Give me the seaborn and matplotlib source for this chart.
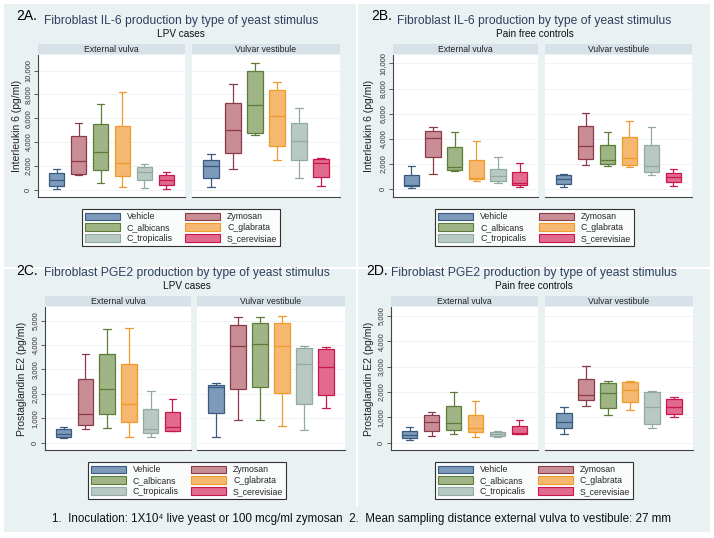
import numpy as np
import pandas as pd
import matplotlib
matplotlib.use('Agg')
import matplotlib.pyplot as plt
from matplotlib.patches import Rectangle, Patch
from matplotlib.ticker import FuncFormatter
import seaborn as sns

# five-number summaries per stimulus: min, q1, median, q3, max
stims = ['Vehicle', 'Zymosan', 'C_albicans', 'C_glabrata', 'C_tropicalis', 'S_cerevisiae']
fills = ['#7e9aba', '#c98e95', '#9fb585', '#f5b870', '#b8c9c3', '#e26a8e']
edges = ['#3a5a80', '#8b3a4a', '#5e7c39', '#f09a2a', '#93aaa3', '#c8174d']

il6_lpv_ext = [[80, 310, 790, 1380, 1770], [1210, 1350, 2390, 4490, 5560],
               [590, 1660, 3200, 5480, 7160], [230, 1150, 2220, 5390, 8170],
               [170, 840, 1520, 1910, 2190], [80, 420, 790, 1210, 1460]]
il6_lpv_vest = [[250, 1010, 1990, 2530, 3030], [1770, 3090, 5000, 7300, 8850],
                [4580, 4800, 7110, 9970, 10650], [2530, 3650, 6150, 8340, 9020],
                [980, 2530, 4130, 5560, 6830], [310, 1070, 2220, 2560, 2670]]
il6_ctrl_ext = [[130, 270, 340, 1110, 1880], [1220, 2540, 4050, 4600, 4950],
                [1430, 1530, 1800, 3330, 4580], [660, 820, 930, 2350, 3810],
                [500, 690, 1060, 1590, 2540], [210, 340, 500, 1350, 2090]]
il6_ctrl_vest = [[180, 450, 820, 1130, 1210], [1900, 2420, 3420, 5050, 6050],
                 [1840, 2000, 2290, 3550, 4530], [1790, 1950, 2500, 4180, 5400],
                 [1160, 1370, 1840, 3550, 4970], [260, 550, 970, 1320, 1580]]
pge2_lpv_ext = [[190, 230, 360, 550, 630], [550, 710, 1190, 2600, 3650],
                [600, 1160, 2190, 3650, 4650], [250, 830, 1570, 3220, 4700],
                [250, 410, 550, 1370, 2120], [480, 490, 630, 1260, 1780]]
pge2_lpv_vest = [[250, 1200, 2270, 2350, 2450], [940, 2200, 3960, 4820, 5140],
                 [940, 2270, 4030, 4890, 5160], [670, 2020, 3960, 4890, 5190],
                 [520, 1570, 3210, 3880, 3960], [1410, 1950, 3090, 3830, 3920]]
pge2_ctrl_ext = [[120, 170, 300, 450, 620], [260, 460, 800, 1080, 1200],
                 [330, 500, 760, 1430, 1990], [210, 410, 570, 1100, 1650],
                 [210, 280, 360, 420, 460], [330, 340, 370, 660, 880]]
pge2_ctrl_vest = [[360, 580, 800, 1160, 1420], [1460, 1680, 1900, 2510, 3030],
                  [1100, 1360, 1960, 2370, 2420], [1280, 1590, 2100, 2380, 2450],
                  [590, 720, 1400, 2010, 2040], [1000, 1130, 1420, 1710, 1790]]

sns.set_theme(style='white')
plt.rcParams['font.family'] = ['Liberation Sans', 'DejaVu Sans']

W, H = 714, 538
fig = plt.figure(figsize=(W / 100, H / 100), dpi=100, facecolor='white')
bg = '#eaf1f3'


def rect(x0, y0, x1, y1):
    return [x0 / W, 1 - y1 / H, (x1 - x0) / W, (y1 - y0) / H]


def fx(x):
    return x / W


def fy(y):
    return 1 - y / H


# panel backgrounds
for (x0, y0, x1, y1) in [(4, 4, 356, 267), (358, 4, 710, 267),
                         (4, 269, 356, 506), (358, 269, 710, 506), (4, 506, 710, 532)]:
    fig.patches.append(Rectangle((fx(x0), fy(y1)), (x1 - x0) / W, (y1 - y0) / H,
                                 transform=fig.transFigure, facecolor=bg,
                                 edgecolor='none', zorder=-5))


def to_long(summ):
    rows = []
    for s, vals in zip(stims, summ):
        for v in vals:
            rows.append((s, v))
    return pd.DataFrame(rows, columns=['stim', 'val'])


def facet(x0, x1, y0, y1, summ, ylim, ticks, name, left):
    st = fig.add_axes(rect(x0, y0 - 11, x1, y0 - 1))
    st.set_facecolor('#d7e2e8')
    st.set_xticks([])
    st.set_yticks([])
    for sp in st.spines.values():
        sp.set_visible(False)
    st.text(0.5, 0.5, name, ha='center', va='center', fontsize=6.2, color='#222222')

    ax = fig.add_axes(rect(x0, y0, x1, y1))
    ax.set_facecolor('white')
    df = to_long(summ)
    for i, s in enumerate(stims):
        sns.boxplot(data=df[df['stim'] == s], x='stim', y='val', order=stims,
                    color=fills[i], linecolor=edges[i], linewidth=0.9,
                    saturation=1, whis=(0, 100), width=0.7,
                    showfliers=False, ax=ax)
    ax.set_xlim(-0.85, 5.85)
    ax.set_ylim(*ylim)
    ax.set_yticks(ticks)
    ax.yaxis.grid(True, color='#eef1f1', lw=0.6)
    ax.set_axisbelow(True)
    ax.set_xlabel('')
    ax.set_ylabel('')
    ax.set_xticks([])
    for sp in ['top', 'right']:
        ax.spines[sp].set_visible(False)
    ax.spines['bottom'].set_color('#444444')
    ax.spines['bottom'].set_linewidth(0.8)
    if left:
        ax.spines['left'].set_color('#444444')
        ax.spines['left'].set_linewidth(0.8)
        ax.tick_params(axis='y', left=True, length=3, width=0.6, color='#444444',
                       labelsize=5.5, labelcolor='#333333', pad=1.5)
        ax.yaxis.set_major_formatter(FuncFormatter(lambda v, p: '{:,.0f}'.format(v)))
        for lab in ax.get_yticklabels():
            lab.set_rotation(90)
            lab.set_va('center')
    else:
        ax.spines['left'].set_visible(False)
        ax.tick_params(axis='y', left=False, labelleft=False)
    return ax


def panel(tag, title, sub, xl, ext_x, vest_x, y0, y1, ext, vest, ylim, ticks, ylab, ylx, tag_y, title_y):
    facet(ext_x[0], ext_x[1], y0, y1, ext, ylim, ticks, 'External vulva', True)
    facet(vest_x[0], vest_x[1], y0, y1, vest, ylim, ticks, 'Vulvar vestibule', False)
    cx = (ext_x[0] + vest_x[1]) / 2 - 8
    fig.text(fx(xl), fy(tag_y), tag, fontsize=10, color='black', ha='left', va='center')
    fig.text(fx(cx), fy(title_y), title, fontsize=8.7, color='#2f3f60', ha='center', va='center')
    fig.text(fx(cx), fy(title_y + 13), sub, fontsize=7.2, color='#111111', ha='center', va='center')
    fig.text(fx(ylx), fy((y0 + y1) / 2), ylab, rotation=90, fontsize=7.5,
             color='#222222', ha='center', va='center')
    handles = [Patch(facecolor=fills[i], edgecolor=edges[i], lw=0.8) for i in [0, 2, 4, 1, 3, 5]]
    labels = [stims[i] for i in [0, 2, 4, 1, 3, 5]]
    leg = fig.legend(handles, labels, ncol=2, loc='upper center',
                     bbox_to_anchor=(fx(cx), fy(y1 + 8)), fontsize=6.3,
                     frameon=True, fancybox=False, edgecolor='black',
                     handlelength=4.0, handleheight=1.0, labelspacing=0.2,
                     columnspacing=1.4, borderpad=0.35, handletextpad=0.8)
    leg.get_frame().set_linewidth(0.8)


il6_ticks = [0, 2000, 4000, 6000, 8000, 10000]
pge2_ticks = [0, 1000, 2000, 3000, 4000, 5000]

panel('2A.', 'Fibroblast IL-6 production by type of yeast stimulus', 'LPV cases', 16,
      (38, 185), (192, 340), 55, 197, il6_lpv_ext, il6_lpv_vest, (-600, 11300),
      il6_ticks, 'Interleukin 6 (pg/ml)', 17, 16, 21)
panel('2B.', 'Fibroblast IL-6 production by type of yeast stimulus', 'Pain free controls', 371,
      (393, 538), (545, 692), 55, 197, il6_ctrl_ext, il6_ctrl_vest, (-610, 10660),
      il6_ticks, 'Interleukin 6 (pg/ml)', 369, 16, 21)
panel('2C.', 'Fibroblast PGE2 production by type of yeast stimulus', 'LPV cases', 16,
      (45, 191), (197, 345), 307, 450, pge2_lpv_ext, pge2_lpv_vest, (-300, 5560),
      pge2_ticks, 'Prostaglandin E2 (pg/ml)', 22, 271, 273)
panel('2D.', 'Fibroblast PGE2 production by type of yeast stimulus', 'Pain free controls', 366,
      (391, 538), (545, 693), 307, 450, pge2_ctrl_ext, pge2_ctrl_vest, (-290, 5360),
      pge2_ticks, 'Prostaglandin E2 (pg/ml)', 369, 271, 273)

fig.text(fx(362), fy(519),
         '1.  Inoculation: 1X10\u2074 live yeast or 100 mcg/ml zymosan  2.  Mean sampling distance external vulva to vestibule: 27 mm',
         fontsize=8.4, color='#111111', ha='center', va='center')

fig.savefig('out.png', dpi=100, facecolor='white')
